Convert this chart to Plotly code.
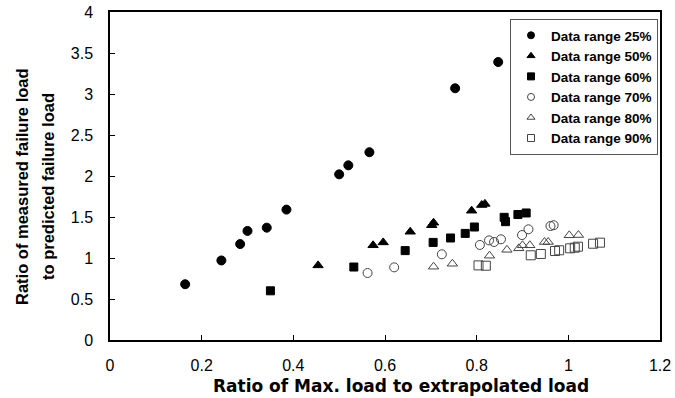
import plotly.graph_objects as go

x25 = [0.164, 0.243, 0.284, 0.300, 0.342, 0.385, 0.500, 0.520, 0.566, 0.753, 0.847]
y25 = [0.68, 0.97, 1.17, 1.33, 1.37, 1.59, 2.02, 2.13, 2.29, 3.07, 3.39]

x50 = [0.454, 0.574, 0.596, 0.655, 0.702, 0.706, 0.789, 0.811, 0.818]
y50 = [0.91, 1.155, 1.19, 1.32, 1.40, 1.43, 1.577, 1.646, 1.66]

x60 = [0.350, 0.532, 0.644, 0.705, 0.743, 0.775, 0.795, 0.860, 0.863, 0.890, 0.908]
y60 = [0.60, 0.89, 1.09, 1.19, 1.244, 1.30, 1.378, 1.496, 1.443, 1.53, 1.549]

x70 = [0.562, 0.620, 0.724, 0.807, 0.827, 0.838, 0.853, 0.899, 0.913, 0.961, 0.968]
y70 = [0.817, 0.886, 1.045, 1.159, 1.215, 1.195, 1.228, 1.28, 1.35, 1.39, 1.40]

x80 = [0.706, 0.747, 0.828, 0.866, 0.892, 0.900, 0.916, 0.948, 0.956, 1.002, 1.022]
y80 = [0.894, 0.93, 1.028, 1.10, 1.118, 1.155, 1.155, 1.195, 1.195, 1.277, 1.28]

x90 = [0.804, 0.820, 0.918, 0.940, 0.971, 0.980, 1.004, 1.014, 1.021, 1.054, 1.069]
y90 = [0.91, 0.906, 1.033, 1.049, 1.085, 1.094, 1.118, 1.126, 1.138, 1.174, 1.187]

names = ["Data range 25%", "Data range 50%", "Data range 60%",
         "Data range 70%", "Data range 80%", "Data range 90%"]
xs_all = [x25, x50, x60, x70, x80, x90]
ys_all = [y25, y50, y60, y70, y80, y90]
symbols = ["circle", "triangle-up", "square", "circle-open", "triangle-up-open", "square-open"]
sizes = [9, 9, 8, 9, 9, 9]
colors = ["black", "black", "black", "#444444", "#444444", "#444444"]

fig = go.Figure()
for name, xs, ys, sym, size, col in zip(names, xs_all, ys_all, symbols, sizes, colors):
    fig.add_trace(go.Scatter(
        x=xs, y=ys, mode="markers", name=name, showlegend=False,
        marker=dict(symbol=sym, size=size, color=col,
                    line=dict(color=col, width=1)),
    ))
# legend entries with smaller symbols, as in the reference legend
for name, sym, col in zip(names, symbols, colors):
    fig.add_trace(go.Scatter(
        x=[None], y=[None], mode="markers", name=name,
        marker=dict(symbol=sym, size=7, color=col, line=dict(color=col, width=1)),
    ))

font = "Liberation Sans, Arial, sans-serif"
wide = "DejaVu Sans, Liberation Sans, sans-serif"
fig.update_layout(
    width=675, height=398,
    margin=dict(l=110, r=15, t=12, b=58),
    paper_bgcolor="white", plot_bgcolor="white",
    font=dict(family=font, size=16, color="black"),
    showlegend=True,
    legend=dict(x=(658 - 110) / 550, y=(340 - 19) / 328, xanchor="right", yanchor="top",
                bordercolor="#555555", borderwidth=1, bgcolor="white",
                font=dict(family=font, size=13.5, color="black", weight="bold"),
                itemsizing="trace", tracegroupgap=0, itemwidth=30),
    xaxis=dict(range=[0, 1.2], dtick=0.2, showgrid=False, zeroline=False,
               showline=True, linecolor="black", linewidth=1.5, mirror=True,
               ticks="inside", ticklen=5, tickcolor="black",
               ticklabelstandoff=10, automargin=False),
    yaxis=dict(range=[0, 4], dtick=0.5, showgrid=False, zeroline=False,
               showline=True, linecolor="black", linewidth=1.5, mirror=True,
               ticks="inside", ticklen=5, tickcolor="black",
               ticklabelstandoff=12, automargin=False),
    annotations=[
        dict(text="<b>Ratio of Max. load to extrapolated load</b>",
             xref="paper", yref="paper", x=(401 - 110) / 550, y=(340 - 386) / 328,
             xanchor="center", yanchor="middle", showarrow=False,
             font=dict(family=wide, size=17, color="black")),
        dict(text="<b>Ratio of measured failure load</b>",
             xref="paper", yref="paper", x=(22 - 110) / 550, y=(340 - 187) / 328,
             xanchor="center", yanchor="middle", showarrow=False, textangle=-90,
             font=dict(family=font, size=16.5, color="black")),
        dict(text="<b>to predicted failure load</b>",
             xref="paper", yref="paper", x=(48 - 110) / 550, y=(340 - 187) / 328,
             xanchor="center", yanchor="middle", showarrow=False, textangle=-90,
             font=dict(family=font, size=16.5, color="black")),
    ],
)

fig.write_html("out.html", config={"displayModeBar": False},
               post_script="document.body.style.margin='0';document.body.style.overflow='hidden';")
